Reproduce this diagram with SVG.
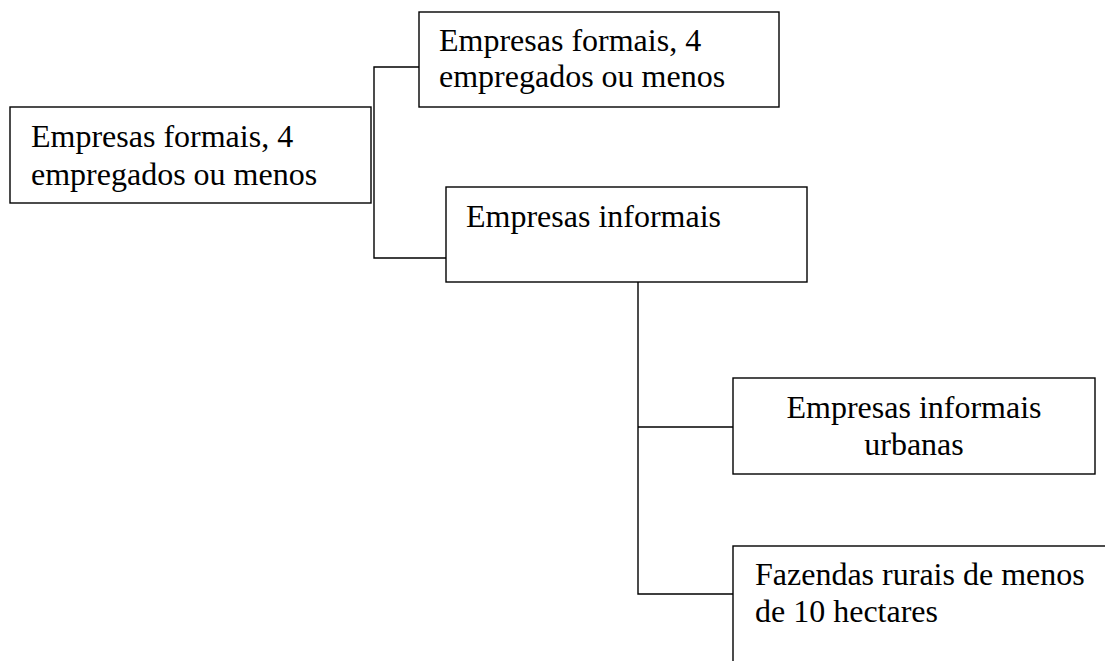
<svg xmlns="http://www.w3.org/2000/svg" width="1105" height="661" viewBox="0 0 1105 661">
<style>
.box{fill:#fff;stroke:#000;stroke-width:1.4}
.t{font-family:'Liberation Serif','Times New Roman',Times,'DejaVu Serif',serif;font-size:32px;fill:#000}
.c{fill:none;stroke:#000;stroke-width:1.4}
</style>
<rect width="1105" height="661" fill="#fff"/>
<g id="connectors">
<polyline class="c" points="419,67 374,67 374,258 446,258"/>
<polyline class="c" points="638,282 638,594 733,594"/>
<line class="c" x1="638" y1="427" x2="733" y2="427"/>
</g>
<g id="n1">
<rect class="box" x="10" y="107" width="361" height="96"/>
<text class="t" x="31" y="147">Empresas formais, 4</text>
<text class="t" x="31" y="185">empregados ou menos</text>
</g>
<g id="n2">
<rect class="box" x="419" y="12" width="360" height="95"/>
<text class="t" x="439" y="51">Empresas formais, 4</text>
<text class="t" x="439" y="87">empregados ou menos</text>
</g>
<g id="n3">
<rect class="box" x="446" y="187" width="361" height="95"/>
<text class="t" x="466" y="227">Empresas informais</text>
</g>
<g id="n4">
<rect class="box" x="733" y="378" width="362" height="96"/>
<text class="t" x="914" y="418" text-anchor="middle">Empresas informais</text>
<text class="t" x="914" y="455" text-anchor="middle">urbanas</text>
</g>
<g id="n5">
<rect class="box" x="733" y="546" width="400" height="140"/>
<text class="t" x="755" y="585">Fazendas rurais de menos</text>
<text class="t" x="755" y="622">de 10 hectares</text>
</g>
</svg>
